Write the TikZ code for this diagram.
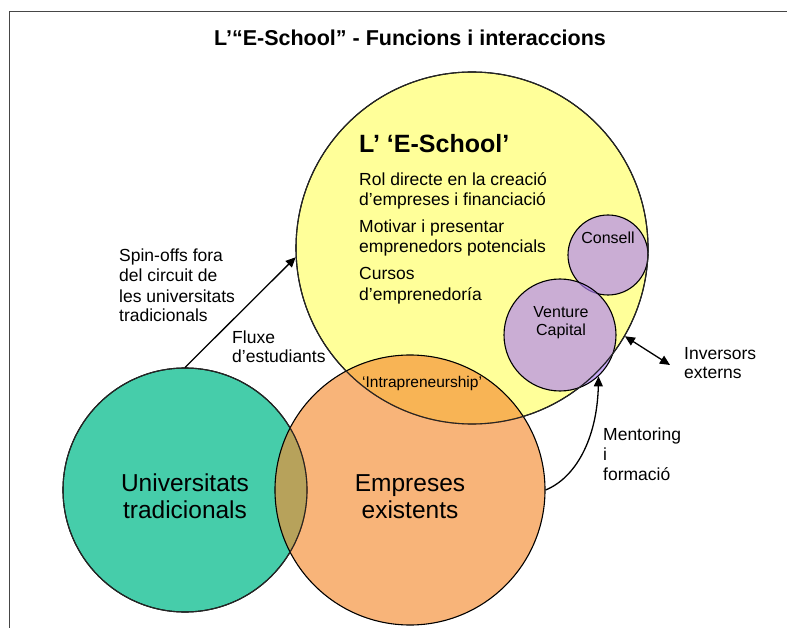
\documentclass[tikz,border=0pt]{standalone}
\usepackage{fontspec}
\setmainfont{Liberation Sans}
\usetikzlibrary{arrows.meta}
\definecolor{ylw}{RGB}{255,255,153}
\definecolor{lil}{RGB}{175,130,245}
\definecolor{grn}{RGB}{70,205,170}
\definecolor{org}{RGB}{245,140,50}
\definecolor{framec}{RGB}{70,70,70}
\begin{document}
\begin{tikzpicture}[x=1pt,y=-1pt,
  circ/.style={circle, draw=black, line width=1.1pt, inner sep=0pt},
  txt/.style={inner sep=0pt, font=\fontsize{17.5}{20}\selectfont, align=left, anchor=base west},
  ctxt/.style={inner sep=0pt, align=center, anchor=base},
  tip/.tip={Triangle[length=10pt,width=9pt]},
  arr/.style={line width=1.3pt, -tip},
  darr/.style={line width=1.3pt, tip-tip}]
\useasboundingbox (0,0) rectangle (787,628);
\fill[white] (0,0) rectangle (787,628);
\draw[framec, line width=1.5pt] (9.3,640) -- (9.3,11.7) -- (800,11.7);

% circles
\node[circ, fill=ylw, minimum size=352pt] (Y) at (472,248) {};
\node[circ, fill=lil, fill opacity=0.65, minimum size=80pt] (C) at (608,255) {};
\node[circ, fill=lil, fill opacity=0.65, minimum size=112pt] (V) at (560,335) {};
\node[circ, fill=grn, minimum size=244pt] (G) at (185,490) {};
\node[circ, fill=org, fill opacity=0.65, minimum size=270pt] (O) at (410,490) {};
\draw[line width=1.1pt, black!85] (Y.center) circle[radius=176];
\draw[line width=1.1pt, black!85] (G.center) circle[radius=122];

% title
\node[ctxt, font=\bfseries\fontsize{21.5}{24}\selectfont] (title) at (410,46) {L’“E-School” - Funcions i interaccions};

% E-School text (multi-line nodes: base = last line baseline)
\node[txt, font=\bfseries\fontsize{25}{30}\selectfont] (es) at (359,153) {L’ ‘E-School’};
\node[txt] (f1) at (359,206) {Rol directe en la creació\\d’empreses i financiació};
\node[txt] (f2) at (359,253) {Motivar i presentar\\emprenedors potencials};
\node[txt, font=\fontsize{17.5}{21}\selectfont] (f3) at (359,301) {Cursos\\d’emprenedoría};
\node[ctxt, font=\fontsize{16}{18}\selectfont] (ct) at (608,244) {Consell};
\node[ctxt, font=\fontsize{16}{18}\selectfont] (vt) at (561,335) {Venture\\Capital};
\node[txt, font=\fontsize{15.5}{18}\selectfont] (intra) at (362,387) {‘Intrapreneurship’};

% big labels
\node[ctxt, font=\fontsize{24.5}{27}\selectfont] (ut) at (185,518) {Universitats\\tradicionals};
\node[ctxt, font=\fontsize{24.5}{27}\selectfont] (et) at (410,518) {Empreses\\existents};

% side labels
\node[txt, font=\fontsize{17.5}{20}\selectfont] (spin) at (119,322) {Spin-offs fora\\del circuit de\\les universitats\\tradicionals};
\node[txt, font=\fontsize{17.5}{19}\selectfont] (flux) at (232,362) {Fluxe\\d’estudiants};
\node[txt, font=\fontsize{17.5}{19}\selectfont] (inv) at (684,378) {Inversors\\externs};
\node[txt, font=\fontsize{17.5}{20}\selectfont] (ment) at (603,480) {Mentoring\\i\\formació};

% connectors
\coordinate (invend) at (670,365);
\draw[arr] (G.north) -- (Y.183);
\draw[darr] (Y.-30) -- (invend);
\draw[arr] (O.east) .. controls (575,478) and (597,440) .. (V.-47);
\end{tikzpicture}
\end{document}
